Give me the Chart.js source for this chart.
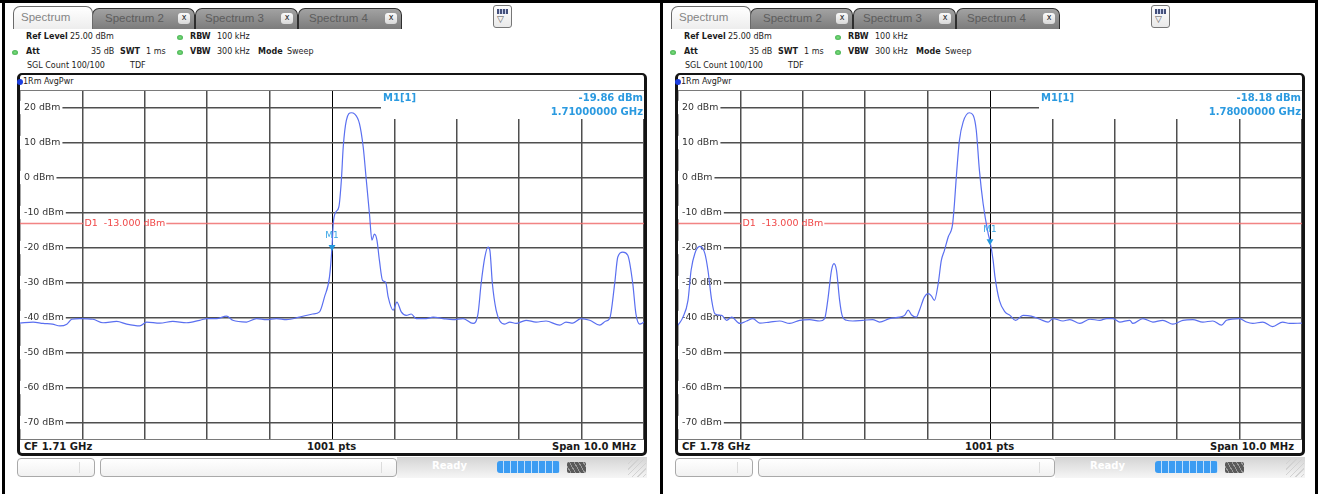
<!DOCTYPE html>
<html>
<head>
<meta charset="utf-8">
<script src="https://cdn.jsdelivr.net/npm/chart.js@4.4.1/dist/chart.umd.min.js"></script>
<style>
  body { margin: 0; width: 1318px; height: 494px; background: #fff; position: relative; overflow: hidden; font-family: "DejaVu Sans", sans-serif; }
  .rule { position: absolute; background: #000; }
  .panel { position: absolute; top: 0; width: 660px; height: 494px; }
  .panel > * { position: absolute; }
  .tab { top: 8px; height: 21px; box-sizing: border-box; border: 1px solid #2e2e2e; border-bottom: none; border-radius: 7px 7px 0 0;
         background: linear-gradient(#a2a2a2, #7c7c7c); color: #5c5c5c; font-family: "Liberation Sans", sans-serif; font-size: 11.5px; line-height: 19px; white-space: nowrap; }
  .tab.active { top: 6px; height: 23px; background: linear-gradient(#ffffff, #ededed); color: #858585; border-color: #6a6a6a; z-index: 2; line-height: 21px; }
  .tab .x { position: absolute; right: 4px; top: 4px; width: 12px; height: 11px; border-radius: 3px; background: linear-gradient(#fafafa, #d8d8d8);
            color: #222; font-family: "DejaVu Sans", sans-serif; font-size: 8px; line-height: 10px; text-align: center; }
  .menu { left: 493px; top: 5px; width: 19px; height: 23px; box-sizing: border-box; border: 1px solid #777; border-radius: 3px; background: linear-gradient(#fff, #e9e9e9); }
  .menu .bars { position: absolute; left: 3px; top: 3px; width: 11px; height: 5px; background: repeating-linear-gradient(90deg, #44507a 0 2px, #c9d2ee 2px 3px); }
  .menu .tri { position: absolute; left: 3px; top: 8px; font-size: 9px; color: #555; }
  .t { font-size: 8px; line-height: 10px; color: #1c1c1c; white-space: nowrap; }
  .b { font-weight: bold; }
  .dot { width: 6px; height: 5px; border-radius: 50%; background: radial-gradient(#7fe07f, #2f9f3f); }
  .plotbox { left: 17px; top: 73px; width: 630px; height: 383px; box-sizing: border-box; border: 3px solid #141414; border-top-width: 2px; border-radius: 5px; background: #fff; }
  .trdot { left: 17px; top: 79px; width: 6px; height: 6px; border-radius: 50%; background: #1d3fe0; z-index: 2; }
  .foot { font-size: 10px; font-weight: bold; line-height: 12px; color: #1a1a1a; white-space: nowrap; }
  .sbox { top: 458px; height: 19px; box-sizing: border-box; border: 1px solid #a9a9a9; border-radius: 4px; background: linear-gradient(#ffffff, #f1f1f1); }
  .sbox i { position: absolute; top: 3px; width: 1px; height: 11px; background: #dcdcdc; }
  .sstrip { left: 397px; top: 457px; width: 250px; height: 21px; background: linear-gradient(#d4d4d4, #f6f6f6); }
  .ready { left: 432px; top: 461px; color: #fff; font-size: 10px; font-weight: bold; }
  .prog { left: 497px; top: 461px; width: 63px; height: 12px; border-radius: 3px; background: repeating-linear-gradient(90deg, #3b9cf2 0 6px, #bfe0ff 6px 7px); }
  .io { left: 567px; top: 462px; width: 19px; height: 11px; border-radius: 2px; background: repeating-linear-gradient(60deg, #5a5a5a 0 3px, #9a9a9a 3px 4px); }
  .grip { left: 628px; top: 459px; width: 18px; height: 18px; background: repeating-linear-gradient(135deg, transparent 0 3px, #d2d2d2 3px 4px); }
  canvas { left: 20px; top: 90px; }
</style>
</head>
<body>
<div class="rule" style="left:0;top:0;width:1318px;height:3px"></div>
<div class="rule" style="left:2px;top:0;width:3px;height:494px"></div>
<div class="rule" style="left:660px;top:0;width:3px;height:494px"></div>
<div class="rule" style="left:1315px;top:0;width:3px;height:494px"></div>
<div class="panel" id="panelLeft" style="left:0"></div>
<div class="panel" id="panelRight" style="left:658px"></div>

<script>
// Sweep settings shared by both screens
const spanMHz = 10;
const refLevelDbm = 25;
const bottomLevelDbm = -75;
const d1LevelDbm = -13;
const yTickValues = [20, 10, 0, -10, -20, -30, -40, -50, -60, -70];
const xTickValues = [-5, -4, -3, -2, -1, 0, 1, 2, 3, 4, 5]; // MHz from centre, one per division

// Left screen: CF 1.71 GHz, trace (offset from CF in MHz, level in dBm)
const leftCenterGHz = 1.71;
const leftOffsetMHz = [-5.00, -4.79, -4.63, -4.48, -4.36, -4.25, -4.17, -4.04, -3.83, -3.67,
  -3.45, -3.29, -3.08, -2.97, -2.76, -2.55, -2.33, -2.12, -2.00, -1.85,
  -1.69, -1.59, -1.37, -1.21, -1.05, -0.89, -0.73, -0.52, -0.31, -0.20,
  -0.12, -0.04, 0.00, 0.02, 0.06, 0.11, 0.15, 0.18, 0.23, 0.31,
  0.36, 0.44, 0.50, 0.55, 0.60, 0.64, 0.68, 0.72, 0.76, 0.81,
  0.86, 0.90, 0.98, 1.04, 1.11, 1.19, 1.27, 1.35, 1.51, 1.62,
  1.78, 1.94, 2.10, 2.26, 2.34, 2.39, 2.45, 2.50, 2.53, 2.57,
  2.63, 2.69, 2.77, 2.85, 2.95, 3.11, 3.27, 3.43, 3.65, 3.75,
  3.86, 3.99, 4.13, 4.29, 4.39, 4.45, 4.53, 4.58, 4.66, 4.74,
  4.82, 4.87, 4.93, 5.00];
const leftLevelDbm = [-41.6, -41.3, -41.7, -41.9, -42.4, -41.9, -40.5, -40.3, -40.5, -41.5,
  -41.1, -41.9, -42.4, -41.3, -41.6, -41.1, -41.5, -40.8, -40.3, -40.3,
  -39.6, -40.8, -41.3, -40.3, -40.6, -40.3, -40.6, -39.9, -39.0, -38.4,
  -34.1, -28.4, -19.9, -13.2, -9.9, -8.4, -0.8, 8.7, 16.3, 18.5,
  18.2, 15.4, 8.7, -0.8, -10.3, -17.9, -16.2, -17.9, -23.7, -29.4,
  -29.9, -34.1, -37.9, -35.6, -38.4, -39.4, -39.0, -40.3, -40.3, -39.9,
  -40.3, -40.6, -40.3, -41.7, -38.9, -30.3, -22.7, -19.9, -20.8, -30.3,
  -37.9, -41.0, -41.9, -41.3, -41.7, -40.8, -41.3, -41.0, -42.2, -41.3,
  -41.6, -40.3, -40.8, -42.2, -41.0, -40.3, -30.3, -22.7, -21.3, -22.2,
  -30.3, -38.9, -41.9, -41.3];
const leftMarkerOffsetMHz = 0;
const leftMarkerDbm = -19.86;

// Right screen: CF 1.78 GHz
const rightCenterGHz = 1.78;
const rightOffsetMHz = [-5.00, -4.92, -4.84, -4.79, -4.73, -4.65, -4.57, -4.52, -4.46, -4.41,
  -4.30, -4.22, -4.14, -4.01, -3.90, -3.80, -3.69, -3.53, -3.37, -3.21,
  -3.05, -2.89, -2.73, -2.65, -2.60, -2.54, -2.50, -2.46, -2.41, -2.37,
  -2.30, -2.20, -2.04, -1.88, -1.77, -1.61, -1.45, -1.37, -1.31, -1.26,
  -1.18, -1.13, -1.05, -0.99, -0.94, -0.89, -0.83, -0.78, -0.73, -0.67,
  -0.60, -0.57, -0.54, -0.49, -0.43, -0.33, -0.27, -0.22, -0.17, -0.11,
  -0.03, 0.00, 0.05, 0.08, 0.15, 0.24, 0.32, 0.41, 0.53, 0.66,
  0.80, 0.93, 1.01, 1.17, 1.28, 1.44, 1.60, 1.76, 1.87, 1.97,
  2.08, 2.24, 2.29, 2.45, 2.61, 2.77, 2.93, 3.09, 3.25, 3.41,
  3.57, 3.71, 3.79, 4.00, 4.11, 4.21, 4.37, 4.53, 4.69, 4.80,
  5.00];
const rightLevelDbm = [-42.2, -39.9, -35.1, -26.5, -21.7, -19.7, -21.7, -26.5, -35.1, -38.9,
  -39.4, -40.8, -39.9, -41.7, -41.0, -40.3, -41.6, -41.3, -41.0, -41.7,
  -40.8, -40.6, -41.0, -40.3, -35.1, -26.5, -24.6, -26.5, -35.1, -39.4,
  -40.8, -41.0, -40.8, -40.6, -41.3, -40.3, -39.9, -39.4, -37.9, -39.2,
  -39.9, -37.9, -34.1, -33.2, -33.8, -35.1, -30.3, -23.7, -20.8, -17.0,
  -13.4, -7.5, 0.1, 10.6, 15.9, 18.5, 17.8, 13.5, 2.1, -7.5,
  -16.0, -18.2, -23.7, -28.4, -35.1, -38.4, -39.4, -40.8, -39.4, -39.6,
  -40.5, -41.3, -40.3, -41.0, -40.6, -41.7, -40.5, -40.8, -40.3, -40.3,
  -41.3, -40.8, -41.7, -40.3, -41.3, -40.8, -41.9, -40.8, -40.6, -41.3,
  -41.0, -42.2, -40.8, -40.3, -41.3, -41.7, -41.3, -42.6, -41.3, -41.7,
  -41.6];
const rightMarkerOffsetMHz = 0;
const rightMarkerDbm = -18.18;

const traceColor = '#5a6ff0';
const markerColor = '#2196dc';
const gridColor = '#4f4f4f';

// Static analyzer chrome around each plot
function panelHtml(canvasId, centerGHz) {
  return `
  <div class="tab active" style="left:13px;width:80px;padding-left:7px">Spectrum</div>
  <div class="tab" style="left:92px;width:103px;padding-left:12px">Spectrum 2<span class="x">x</span></div>
  <div class="tab" style="left:195px;width:103px;padding-left:9px">Spectrum 3<span class="x">x</span></div>
  <div class="tab" style="left:298px;width:104px;padding-left:10px">Spectrum 4<span class="x">x</span></div>
  <div class="menu"><div class="bars"></div><div class="tri">&#9661;</div></div>
  <div class="t b" style="left:26px;top:32px">Ref Level</div>
  <div class="t" style="left:70px;top:32px">${refLevelDbm.toFixed(2)} dBm</div>
  <div class="dot" style="left:177px;top:35px"></div>
  <div class="t b" style="left:190px;top:32px">RBW</div>
  <div class="t" style="left:217px;top:32px">100 kHz</div>
  <div class="dot" style="left:12px;top:50px"></div>
  <div class="t b" style="left:26px;top:47px">Att</div>
  <div class="t" style="left:91px;top:47px">35 dB</div>
  <div class="t b" style="left:120px;top:47px">SWT</div>
  <div class="t" style="left:146px;top:47px">1 ms</div>
  <div class="dot" style="left:177px;top:50px"></div>
  <div class="t b" style="left:190px;top:47px">VBW</div>
  <div class="t" style="left:217px;top:47px">300 kHz</div>
  <div class="t b" style="left:258px;top:47px">Mode</div>
  <div class="t" style="left:287px;top:47px">Sweep</div>
  <div class="t" style="left:27px;top:61px">SGL Count 100/100</div>
  <div class="t" style="left:130px;top:61px">TDF</div>
  <div class="plotbox"></div>
  <div class="trdot"></div>
  <div class="t" style="left:23px;top:77px">1Rm AvgPwr</div>
  <canvas id="${canvasId}" width="624" height="350"></canvas>
  <div class="foot" style="left:24px;top:441px">CF ${centerGHz.toFixed(2)} GHz</div>
  <div class="foot" style="left:307px;top:441px">1001 pts</div>
  <div class="foot" style="left:552px;top:441px">Span ${spanMHz.toFixed(1)} MHz</div>
  <div class="sbox" style="left:17px;width:78px"><i style="left:61px"></i></div>
  <div class="sbox" style="left:100px;width:297px"><i style="left:280px"></i></div>
  <div class="sstrip"></div>
  <div class="t ready">Ready</div>
  <div class="prog"></div>
  <div class="io"></div>
  <div class="grip"></div>`;
}

document.getElementById('panelLeft').innerHTML = panelHtml('leftChart', leftCenterGHz);
document.getElementById('panelRight').innerHTML = panelHtml('rightChart', rightCenterGHz);

// Display line D1, marker readout box and frame lines
const analyzerOverlay = {
    id: 'analyzerOverlay',
    beforeDatasetsDraw(chart, args, opts) {
        const { ctx, chartArea: a, scales: { x, y } } = chart;
        ctx.save();
        // top and bottom edge of the grid
        ctx.strokeStyle = '#7a7a7a';
        ctx.lineWidth = 1;
        ctx.beginPath();
        ctx.moveTo(a.left, a.top + 0.5); ctx.lineTo(a.right, a.top + 0.5);
        ctx.moveTo(a.left, a.bottom - 0.5); ctx.lineTo(a.right, a.bottom - 0.5);
        ctx.stroke();

        // D1 limit line with its label sitting on the second division
        const yd = Math.round(y.getPixelForValue(d1LevelDbm)) + 0.5;
        const label = 'D1  ' + d1LevelDbm.toFixed(3) + ' dBm';
        ctx.font = '9.5px "DejaVu Sans"';
        const tx = x.getPixelForValue(xTickValues[1]) + 2;
        const tw = ctx.measureText(label).width;
        ctx.strokeStyle = 'rgba(240, 110, 110, 0.85)';
        ctx.lineWidth = 1.5;
        ctx.beginPath();
        ctx.moveTo(a.left, yd); ctx.lineTo(tx - 1, yd);
        ctx.moveTo(tx + tw + 1, yd); ctx.lineTo(a.right, yd);
        ctx.stroke();
        ctx.fillStyle = '#f04848';
        ctx.textBaseline = 'middle';
        ctx.fillText(label, tx, yd + 0.5);

        // marker readout in the upper right corner
        const bx = a.left + 361;
        ctx.fillStyle = '#fff';
        ctx.fillRect(bx, a.top + 1, a.right - bx, 28);
        ctx.fillStyle = '#2b9ae0';
        ctx.font = 'bold 10px "DejaVu Sans"';
        ctx.textAlign = 'left';
        ctx.fillText('M1[1]', bx + 2, a.top + 8.5);
        ctx.textAlign = 'right';
        ctx.fillText(opts.markerDbm.toFixed(2) + ' dBm', a.right - 1, a.top + 8.5);
        ctx.fillText((opts.centerGHz + opts.markerOffsetMHz / 1000).toFixed(8) + ' GHz', a.right - 1, a.top + 22);
        ctx.restore();
    },
    afterDatasetsDraw(chart) {
        const pt = chart.getDatasetMeta(1).data[0];
        if (!pt) return;
        const ctx = chart.ctx;
        ctx.save();
        ctx.fillStyle = '#3aa6e6';
        ctx.font = '9px "DejaVu Sans"';
        ctx.textAlign = 'center';
        ctx.textBaseline = 'middle';
        ctx.fillText('M1', pt.x, pt.y - 11);
        ctx.restore();
    }
};

function buildSpectrum(canvasId, offsets, levels, centerGHz, markerOffsetMHz, markerDbm) {
    const trace = offsets.map((f, i) => ({ x: f, y: levels[i] }));
    return new Chart(document.getElementById(canvasId), {
        type: 'line',
        data: {
            datasets: [{
                data: trace,
                borderColor: traceColor,
                borderWidth: 1.2,
                pointRadius: 0,
                cubicInterpolationMode: 'monotone',
                order: 2
            }, {
                data: [{ x: markerOffsetMHz, y: markerDbm }],
                showLine: false,
                pointStyle: 'triangle',
                pointRotation: 180,
                pointRadius: 4,
                pointBackgroundColor: markerColor,
                pointBorderColor: markerColor,
                pointBorderWidth: 0,
                order: 1
            }]
        },
        options: {
            responsive: false,
            animation: false,
            events: [],
            layout: { padding: 0, autoPadding: false },
            plugins: {
                legend: { display: false },
                tooltip: { enabled: false },
                analyzerOverlay: { centerGHz: centerGHz, markerOffsetMHz: markerOffsetMHz, markerDbm: markerDbm }
            },
            scales: {
                x: {
                    type: 'linear',
                    min: -spanMHz / 2,
                    max: spanMHz / 2,
                    afterBuildTicks: s => { s.ticks = xTickValues.map(v => ({ value: v })); },
                    afterFit: s => { s.height = 0; s.paddingLeft = 0; s.paddingRight = 0; s.paddingTop = 0; s.paddingBottom = 0; },
                    ticks: { display: false },
                    border: { display: false },
                    grid: {
                        drawTicks: false,
                        color: c => (c.tick && c.tick.value === 0) ? '#000' : gridColor,
                        lineWidth: c => (c.tick && c.tick.value === 0) ? 1 : 1.5
                    }
                },
                y: {
                    type: 'linear',
                    min: bottomLevelDbm,
                    max: refLevelDbm,
                    afterBuildTicks: s => { s.ticks = yTickValues.map(v => ({ value: v })); },
                    // labels sit inside the grid, so the axis takes no room
                    afterFit: s => { s.width = 0; s.paddingLeft = 0; s.paddingRight = 0; s.paddingTop = 0; s.paddingBottom = 0; },
                    border: { display: false },
                    grid: { drawTicks: false, color: gridColor, lineWidth: 1.5 },
                    ticks: {
                        mirror: true,
                        padding: 4,
                        color: '#333',
                        font: { family: 'DejaVu Sans', size: 9.4 },
                        showLabelBackdrop: true,
                        backdropColor: '#fff',
                        backdropPadding: { left: 4, right: 2, top: 1, bottom: 1 },
                        callback: v => v + ' dBm'
                    }
                }
            }
        },
        plugins: [analyzerOverlay]
    });
}

buildSpectrum('leftChart', leftOffsetMHz, leftLevelDbm, leftCenterGHz, leftMarkerOffsetMHz, leftMarkerDbm);
buildSpectrum('rightChart', rightOffsetMHz, rightLevelDbm, rightCenterGHz, rightMarkerOffsetMHz, rightMarkerDbm);
</script>
</body>
</html>
